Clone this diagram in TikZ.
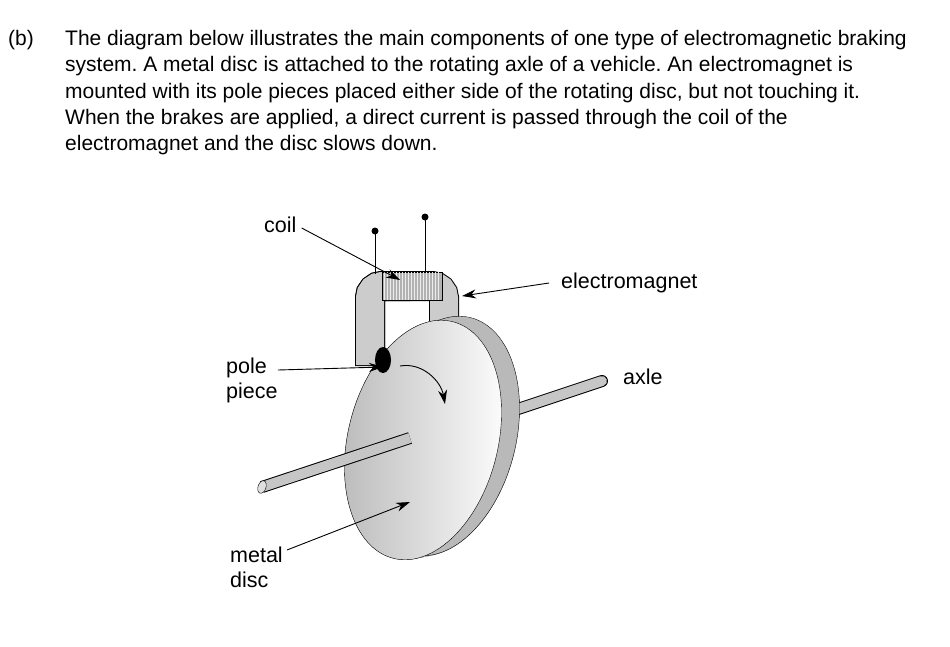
\documentclass[tikz,border=0pt]{standalone}
\usepackage{fontspec}
\setmainfont{Liberation Sans}
\usetikzlibrary{arrows.meta}
\begin{document}
\frenchspacing
\begin{tikzpicture}[x=1pt,y=-1pt,
  lbl/.style={inner sep=0, anchor=west, align=left, font=\fontsize{21.5}{25}\selectfont},
  lead/.style={->, line width=0.9pt, >={Stealth[length=14pt,width=9pt]}}]
\useasboundingbox (0,0) rectangle (950,646);
% Text
\node[lbl, anchor=north west, font=\fontsize{21}{26.3}\selectfont] (part) at (8,30) {(b)};
\node[lbl, anchor=north west, font=\fontsize{21}{26.3}\selectfont] (intro) at (65,30)
 {The diagram below illustrates the main components of one type of electromagnetic braking\\
 system. A metal disc is attached to the rotating axle of a vehicle. An electromagnet is\\
 mounted with its pole pieces placed either side of the rotating disc, but not touching it.\\
 When the brakes are applied, a direct current is passed through the coil of the\\
 electromagnet and the disc slows down.};
% Axle behind the disc
\draw[line width=12pt, black, line cap=round] (470,425) -- (602,381);
\draw[line width=10pt, gray!45, line cap=round] (470,425) -- (602,381);
% Magnet, hidden leg
\draw[line width=30pt, black, rounded corners=12pt] (370,365) -- (370,286) -- (444,286) -- (444,336);
\draw[line width=28pt, gray!40, rounded corners=12pt] (370,365) -- (370,286) -- (444,286) -- (444,336);
% Disc rim and faces
\foreach \s in {0,1,...,18}
  \fill[gray!55] ({423+\s},{440-0.2*\s}) ellipse[x radius=75, y radius=122, rotate=-14];
\draw[thin] (441,436) ellipse[x radius=75, y radius=122, rotate=-14];
\shade[left color=gray!55, right color=white, draw=black, thin] (423,440) ellipse[x radius=75, y radius=122, rotate=-14];
% Axle in front
\draw[line width=12pt, black] (262,487) -- (410,438);
\draw[line width=10pt, gray!45] (262,487) -- (410,438);
\fill[gray!25, draw=black, thin] (262,487) ellipse[x radius=4, y radius=6.5, rotate=-18];
% Magnet, front leg and coil
\draw[line width=30pt, black, rounded corners=12pt] (370,366) -- (370,286) -- (410,286);
\draw[line width=28pt, gray!40, rounded corners=12pt] (370,365) -- (370,286) -- (410,286);
\fill[gray!60, draw=black, thin] (382,272) rectangle (442,300);
\foreach \u in {384,387,...,440}
  \draw[very thin, gray!15] (\u,272) -- (\u,300);
\fill[black] (383,360) ellipse[x radius=8, y radius=13];
% Terminals
\draw[thin] (375,231) -- (375,274);
\draw[thin] (425,217) -- (425,272);
\fill (375,231) circle (3.5);
\fill (425,217) circle (3.5);
% Rotation arrows
\draw[lead] (400,366) to[out=10,in=100] (445,404);
% Labels
\node[lbl] (coil) at (264,225) {coil};
\node[lbl] (magnet) at (561,283) {electromagnet};
\node[lbl] (pole) at (226,380) {pole\\piece};
\node[lbl] (axle) at (623,377) {axle};
\node[lbl] (disc) at (230,567) {metal\\disc};
\coordinate (coilend) at (400,280);
\coordinate (magend) at (462,296);
\coordinate (poleend) at (383,367);
\coordinate (discend) at (410,502);
\draw[lead] ([xshift=5pt,yshift=-3pt]coil.east) -- (coilend);
\draw[lead] ([xshift=-12pt]magnet.west) -- (magend);
\draw[lead] ([xshift=0pt,yshift=10pt]pole.east) -- (poleend);
\draw[lead] ([xshift=4pt,yshift=17pt]disc.east) -- (discend);
\end{tikzpicture}
\end{document}
